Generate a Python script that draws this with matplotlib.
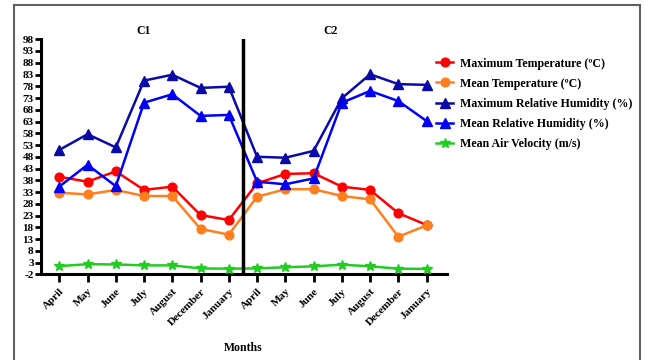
import numpy as np
import matplotlib.pyplot as plt
from matplotlib.lines import Line2D

plt.rcParams['font.family'] = ['Liberation Serif', 'DejaVu Serif']
plt.rcParams['font.weight'] = 'bold'
plt.rcParams['axes.unicode_minus'] = False

months = ['April', 'May', 'June', 'July', 'August', 'December', 'January',
          'April', 'May', 'June', 'July', 'August', 'December', 'January']

max_temp = [39.5, 37.4, 41.8, 33.9, 35.3, 23.2, 21.1,
            36.7, 40.7, 41.0, 35.3, 33.9, 24.0, 19.0]
mean_temp = [32.7, 32.0, 33.9, 31.3, 31.3, 17.3, 14.9,
             31.0, 34.2, 34.2, 31.3, 29.9, 14.0, 18.8]
max_rh = [50.9, 57.6, 52.0, 80.4, 82.9, 77.3, 77.8,
          48.0, 47.6, 50.5, 72.9, 83.1, 78.9, 78.6]
mean_rh = [35.3, 44.6, 35.5, 71.0, 74.6, 65.4, 65.8,
           37.4, 36.3, 38.8, 71.0, 76.0, 71.7, 63.2]
air_vel = [1.5, 2.3, 2.2, 1.8, 1.8, 0.5, 0.4,
           0.5, 1.0, 1.4, 2.1, 1.4, 0.4, 0.3]

series = [
    ('Maximum Temperature (ºC)', max_temp, '#ff0000', 'o', 6.3),
    ('Mean Temperature (ºC)', mean_temp, '#ff7f1e', 'o', 6.3),
    ('Maximum Relative Humidity (%)', max_rh, '#0a0aa8', '^', 6.5),
    ('Mean Relative Humidity (%)', mean_rh, '#0000f5', '^', 6.5),
    ('Mean Air Velocity (m/s)', air_vel, '#22cc22', '*', 7),
]

fig = plt.figure(figsize=(6.45, 3.6), dpi=100)
ax = fig.add_axes([0.063, 0.238, 0.6295, 0.653])

x = np.arange(len(months))
handles = []
for label, vals, col, mk, ms in series:
    h, = ax.plot(x, vals, color=col, marker=mk, markersize=ms, linewidth=1.8,
                 label=label, clip_on=False, zorder=3)
    handles.append(h)

ax.axvline(6.5, color='black', linewidth=2.5, zorder=4)

ax.set_xlim(-0.66, 13.71)
ax.set_ylim(-2, 98)
ax.set_yticks(np.arange(-2, 99, 5))
ax.set_xticks(x)
ax.set_xticklabels(months, rotation=45, ha='right', rotation_mode='anchor',
                   fontsize=8, fontweight='bold')
for lab in ax.get_yticklabels():
    lab.set_fontsize(8)
    lab.set_fontweight('bold')

for s in ['top', 'right']:
    ax.spines[s].set_visible(False)
for s in ['left', 'bottom']:
    ax.spines[s].set_linewidth(2.2)
ax.tick_params(axis='y', length=4, width=2, pad=1)
ax.tick_params(axis='x', length=6, width=2, pad=3)

ax.set_xlabel('Months', fontsize=8.5, fontweight='bold', labelpad=11)

ax.text(3, 99, 'C1', ha='center', va='bottom', fontsize=8.5, fontweight='bold')
ax.text(9.6, 99, 'C2', ha='center', va='bottom', fontsize=8.5, fontweight='bold')

fig.legend(handles=handles, loc='upper left', bbox_to_anchor=(0.66, 0.87),
           frameon=False, fontsize=8.6, handlelength=1.4, labelspacing=0.68,
           handletextpad=0.6)

# figure frame (left, top, right)
frame = dict(color='#606060', linewidth=1.5, transform=fig.transFigure)
fig.add_artist(Line2D([0.021, 0.021], [0, 0.986], **frame))
fig.add_artist(Line2D([0.021, 0.993], [0.986, 0.986], **frame))
fig.add_artist(Line2D([0.993, 0.993], [0, 0.986], **frame))

fig.savefig('out.png', dpi=100)
